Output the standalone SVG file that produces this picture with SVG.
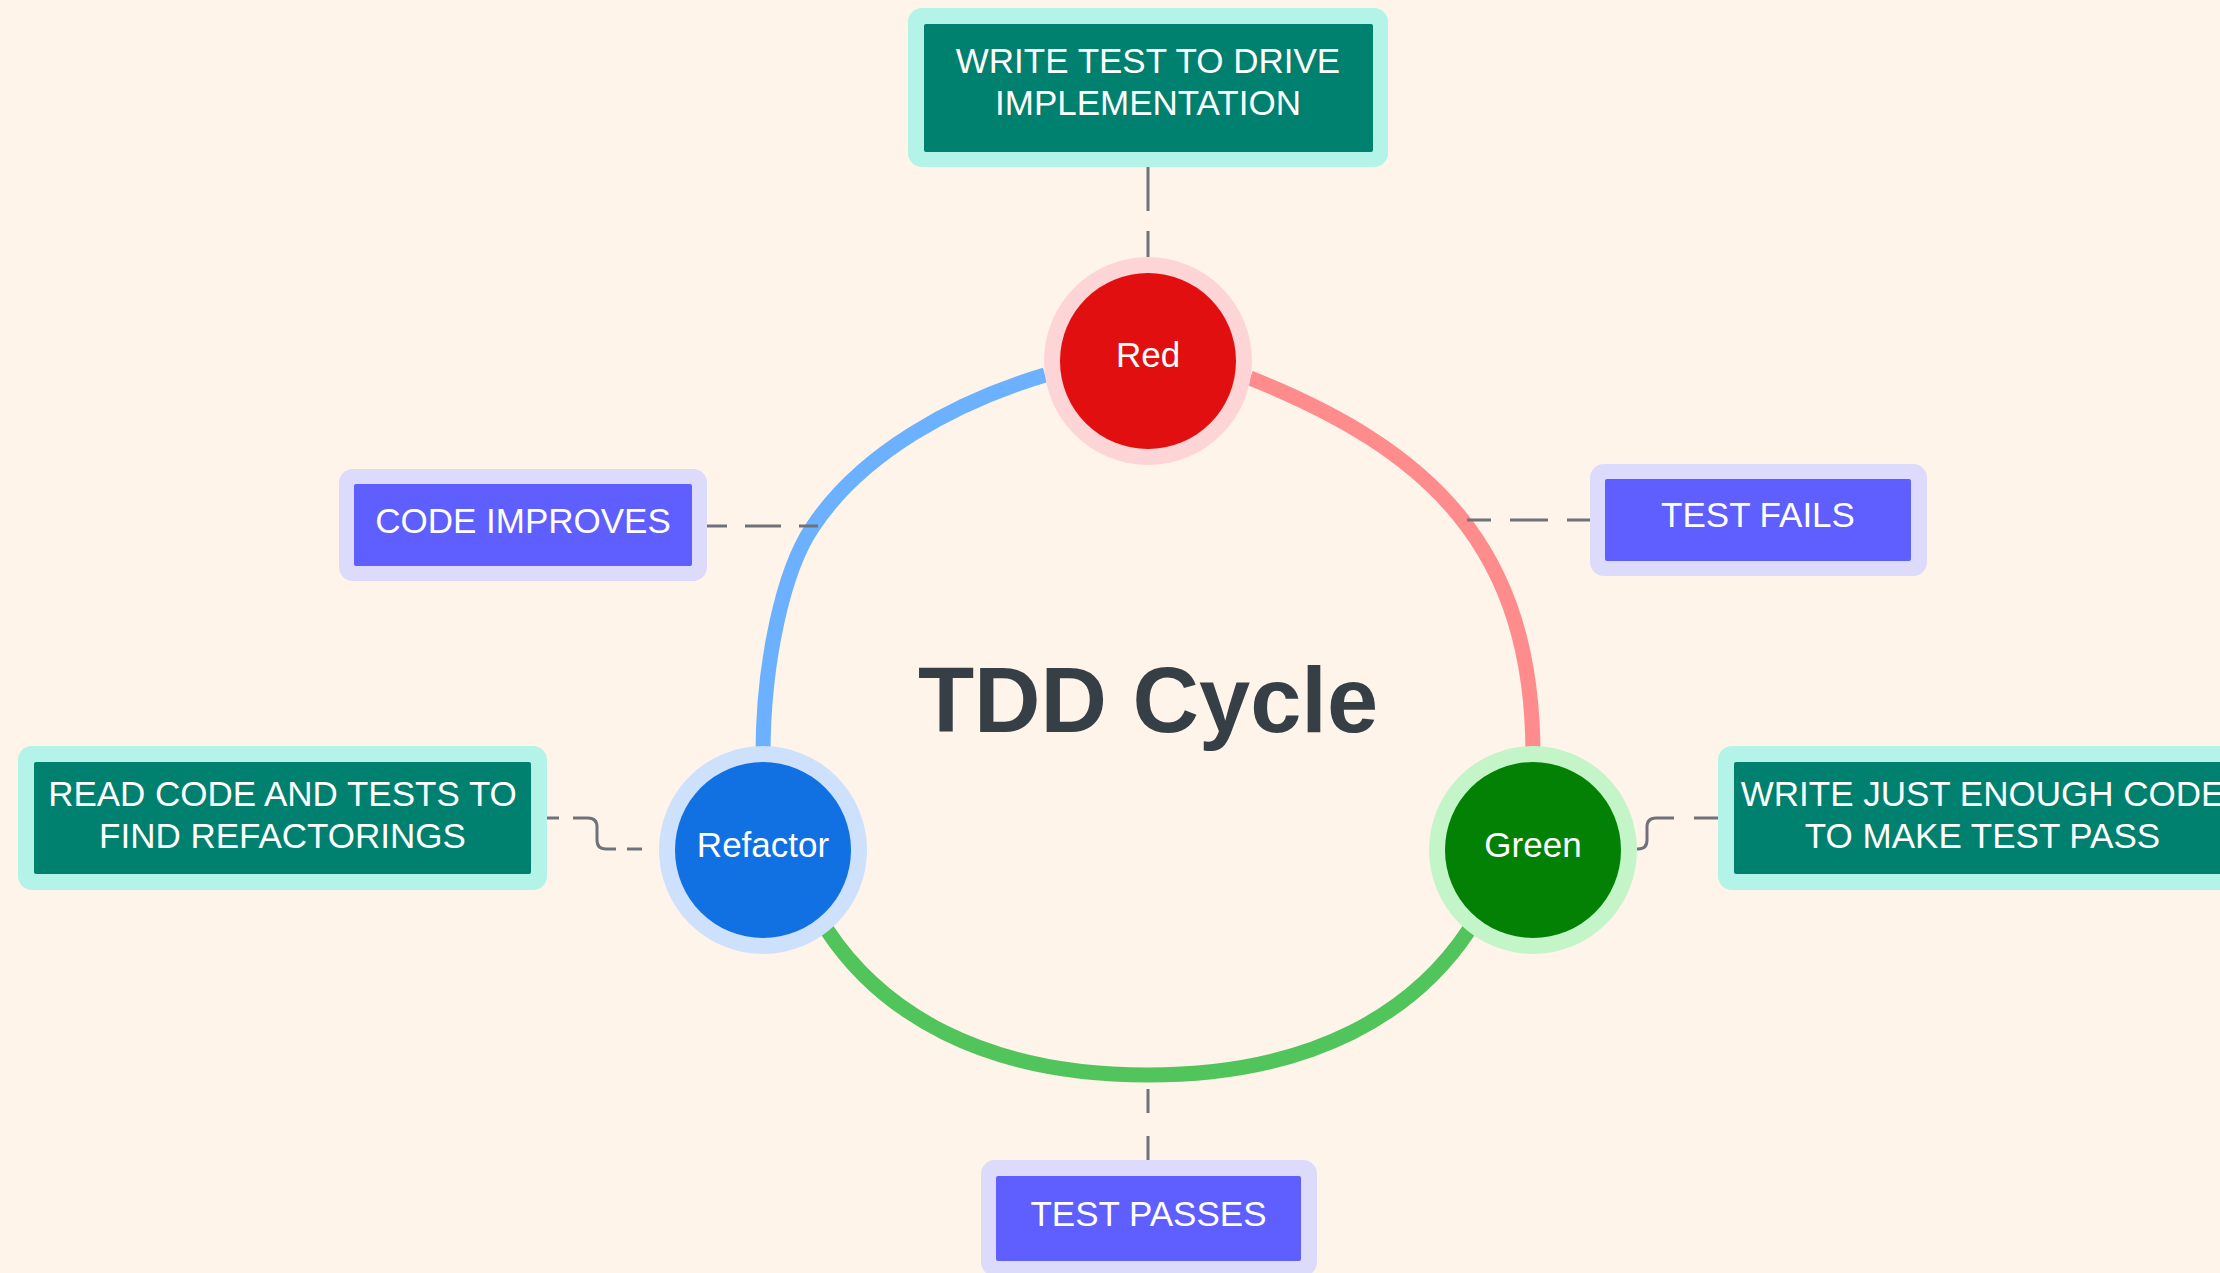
<svg xmlns="http://www.w3.org/2000/svg" width="2220" height="1273" viewBox="0 0 2220 1273">
  <style>
    .lbl{font-family:"Liberation Sans",Arial,sans-serif;font-size:35px;fill:#ffffff;text-anchor:middle}
    .title{font-family:"Liberation Sans",Arial,sans-serif;font-weight:700;font-size:92px;fill:#363f46;text-anchor:middle}
    .dash{fill:none;stroke:#6f727a;stroke-width:3}
    .arc{fill:none;stroke-width:15}
    .teal-o{fill:#b3f3e8}
    .teal-i{fill:#00806f}
    .vio-o{fill:#dcdbfc}
    .vio-i{fill:#5f5eff}
  </style>

  <rect x="0" y="0" width="2220" height="1273" fill="#fef4ea"/>

  <!-- cycle arcs and dashed label links -->
  <g id="connectors">
    <path class="arc" stroke="#ff8c8c" d="M1250,378 C1430,450 1533,547 1533,755"/>
    <path class="arc" stroke="#6bb1ff" d="M1045,375 C955,402 861,453 812,528 C784,570 763,660 763,755"/>
    <path class="arc" stroke="#52c45c" d="M827,930 C880,1010 980,1075 1148,1075 C1316,1075 1416,1010 1469,930"/>

    <path class="dash" stroke-dasharray="44 20" d="M1148,167 V257"/>
    <path class="dash" stroke-dasharray="36 18" stroke-dashoffset="16" d="M707,526 H818"/>
    <path class="dash" stroke-dasharray="38 19" stroke-dashoffset="14" d="M1467,520 H1590"/>
    <path class="dash" stroke-dasharray="24 23" d="M1148,1160 V1076"/>
    <path class="dash" stroke-dasharray="12 14 67 11 15 40" d="M547,818 H588 Q597,818 597,827 V840 Q597,849 606,849 H659"/>
    <path class="dash" stroke-dasharray="61 20 40" d="M1637,849 H1638 Q1647,849 1647,840 V827 Q1647,818 1656,818 H1718"/>
  </g>

  <text class="title" x="1148" y="732">TDD Cycle</text>

  <g id="node-red">
    <circle cx="1148" cy="361" r="104" fill="#fed5d6"/>
    <circle cx="1148" cy="361" r="88" fill="#e20f11"/>
    <text class="lbl" x="1148" y="367">Red</text>
  </g>

  <g id="node-green">
    <circle cx="1533" cy="850" r="104" fill="#c4f5c9"/>
    <circle cx="1533" cy="850" r="88" fill="#028104"/>
    <text class="lbl" x="1533" y="857">Green</text>
  </g>

  <g id="node-refactor">
    <circle cx="763" cy="850" r="104" fill="#cde0fc"/>
    <circle cx="763" cy="850" r="88" fill="#1170e2"/>
    <text class="lbl" x="763" y="857">Refactor</text>
  </g>

  <g id="note-write-test">
    <rect class="teal-o" x="908" y="8" width="480" height="159" rx="14"/>
    <rect class="teal-i" x="924" y="24" width="449" height="128" rx="2"/>
    <text class="lbl" x="1148" y="73">WRITE TEST TO DRIVE</text>
    <text class="lbl" x="1148" y="115">IMPLEMENTATION</text>
  </g>

  <g id="note-test-fails">
    <rect class="vio-o" x="1590" y="464" width="337" height="112" rx="14"/>
    <rect class="vio-i" x="1605" y="479" width="306" height="82" rx="2"/>
    <text class="lbl" x="1758" y="527">TEST FAILS</text>
  </g>

  <g id="note-code-improves">
    <rect class="vio-o" x="339" y="469" width="368" height="112" rx="14"/>
    <rect class="vio-i" x="354" y="484" width="338" height="82" rx="2"/>
    <text class="lbl" x="523" y="533">CODE IMPROVES</text>
  </g>

  <g id="note-read-code">
    <rect class="teal-o" x="18" y="746" width="529" height="144" rx="14"/>
    <rect class="teal-i" x="34" y="762" width="497" height="112" rx="2"/>
    <text class="lbl" x="282.5" y="806">READ CODE AND TESTS TO</text>
    <text class="lbl" x="282.5" y="848">FIND REFACTORINGS</text>
  </g>

  <g id="note-just-enough">
    <rect class="teal-o" x="1718" y="746" width="529" height="144" rx="14"/>
    <rect class="teal-i" x="1734" y="762" width="497" height="112" rx="2"/>
    <text class="lbl" x="1982.5" y="806">WRITE JUST ENOUGH CODE</text>
    <text class="lbl" x="1982.5" y="848">TO MAKE TEST PASS</text>
  </g>

  <g id="note-test-passes">
    <rect class="vio-o" x="981" y="1160" width="336" height="116" rx="14"/>
    <rect class="vio-i" x="996" y="1176" width="305" height="85" rx="2"/>
    <text class="lbl" x="1148.5" y="1226">TEST PASSES</text>
  </g>
</svg>
